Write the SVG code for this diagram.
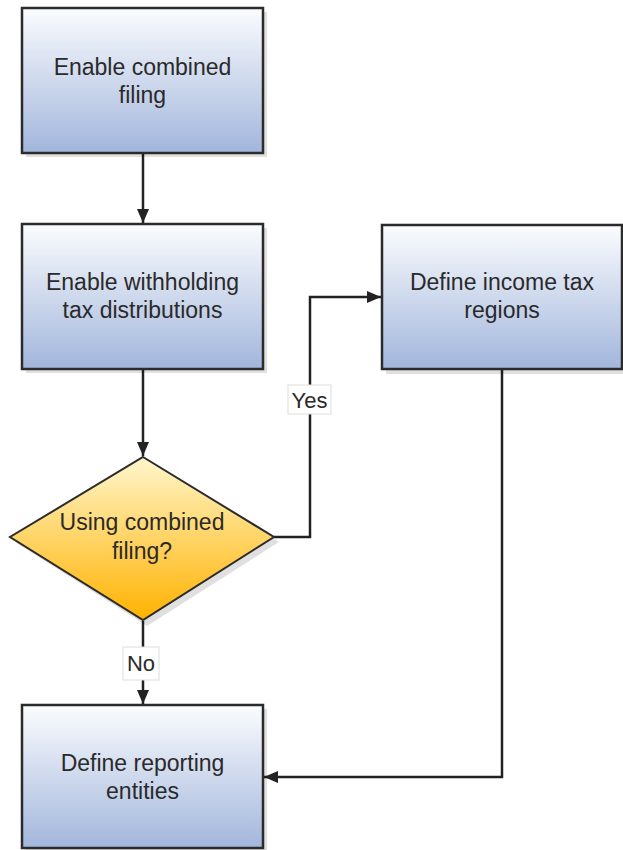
<svg xmlns="http://www.w3.org/2000/svg" width="623" height="850" viewBox="0 0 623 850">
<defs>
<linearGradient id="gBox" x1="0" y1="0" x2="0" y2="1">
<stop offset="0" stop-color="#fbfcfe"/>
<stop offset="1" stop-color="#a2b6dc"/>
</linearGradient>
<linearGradient id="gDia" x1="0" y1="0" x2="0" y2="1">
<stop offset="0" stop-color="#fff6cc"/>
<stop offset="1" stop-color="#ffb200"/>
</linearGradient>
<marker id="arr" viewBox="0 0 14 12" refX="14" refY="6" markerWidth="14" markerHeight="12" markerUnits="userSpaceOnUse" orient="auto">
<path d="M0,0 L14,6 L0,12 z" fill="#222"/>
</marker>
</defs>
<style>
.box{fill:url(#gBox);stroke:#2b2b2b;stroke-width:2.5}
.dia{fill:url(#gDia);stroke:#2b2b2b;stroke-width:2}
.sh{fill:#000;opacity:0.12}
.t{font-family:"Liberation Sans",Arial,sans-serif;font-size:23px;fill:#2a2a2a;text-anchor:middle}
.c{fill:none;stroke:#222;stroke-width:2.5}
.lbl{fill:#fff;stroke:#ddd;stroke-width:1}
</style>
<rect width="623" height="850" fill="#fff"/>
<g id="connectors">
<path class="c" d="M143,154 V223" marker-end="url(#arr)"/>
<path class="c" d="M143,370 V456" marker-end="url(#arr)"/>
<path class="c" d="M274,537 H310 V297 H381" marker-end="url(#arr)"/>
<path class="c" d="M143,621 V704" marker-end="url(#arr)"/>
<path class="c" d="M502,370 V777 H264" marker-end="url(#arr)"/>
<g id="label-yes">
<rect class="lbl" x="288" y="385" width="43" height="29"/>
<text class="t" x="309.5" y="408" style="font-size:22px">Yes</text>
</g>
<g id="label-no">
<rect class="lbl" x="123" y="647" width="36" height="33"/>
<text class="t" x="141" y="671" style="font-size:22px">No</text>
</g>
</g>
<g id="n1">
<rect class="sh" x="26" y="12" width="241" height="145"/>
<rect class="box" x="22" y="8" width="241" height="145"/>
<text class="t" x="142.5" y="75">Enable combined</text>
<text class="t" x="142.5" y="103">filing</text>
</g>
<g id="n2">
<rect class="sh" x="26" y="228" width="241" height="145"/>
<rect class="box" x="22" y="224" width="241" height="145"/>
<text class="t" x="142.5" y="290">Enable withholding</text>
<text class="t" x="142.5" y="318">tax distributions</text>
</g>
<g id="n3">
<rect class="sh" x="386" y="229" width="241" height="145"/>
<rect class="box" x="382" y="225" width="240" height="144"/>
<text class="t" x="502" y="290">Define income tax</text>
<text class="t" x="502" y="318">regions</text>
</g>
<g id="n4">
<polygon class="sh" points="147,462 279,542 147,626 15,542"/>
<polygon class="dia" points="143,457 274,537 143,620 10,537"/>
<text class="t" x="142" y="530">Using combined</text>
<text class="t" x="142" y="559">filing?</text>
</g>
<g id="n5">
<rect class="sh" x="26" y="709" width="241" height="145"/>
<rect class="box" x="22" y="705" width="241" height="143"/>
<text class="t" x="142.5" y="771">Define reporting</text>
<text class="t" x="142.5" y="799">entities</text>
</g>
</svg>
